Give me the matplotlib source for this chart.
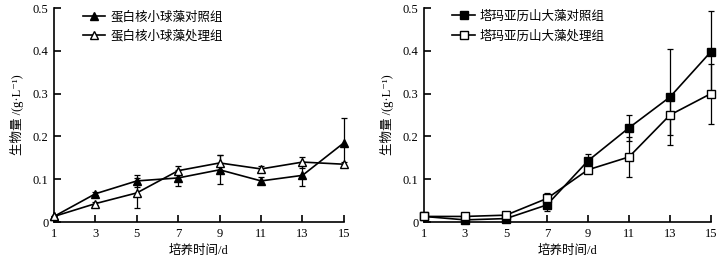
import matplotlib
matplotlib.use('Agg')
import matplotlib.pyplot as plt
import numpy as np

plt.rcParams['font.family'] = ['Liberation Serif', 'DejaVu Serif', 'Noto Sans CJK SC']
plt.rcParams['font.size'] = 9

days = [1, 3, 5, 7, 9, 11, 13, 15]

# 蛋白核小球藻
chl_ctrl = [0.013, 0.066, 0.096, 0.103, 0.122, 0.096, 0.109, 0.185]
chl_ctrl_err = [0.002, 0.004, 0.015, 0.019, 0.034, 0.008, 0.025, 0.057]
chl_trt = [0.013, 0.043, 0.068, 0.120, 0.138, 0.124, 0.140, 0.135]
chl_trt_err = [0.002, 0.004, 0.035, 0.010, 0.018, 0.008, 0.013, 0.005]

# 塔玛亚历山大藻
ale_ctrl = [0.013, 0.005, 0.008, 0.040, 0.143, 0.220, 0.292, 0.398]
ale_ctrl_err = [0.002, 0.003, 0.004, 0.015, 0.016, 0.030, 0.112, 0.096]
ale_trt = [0.013, 0.013, 0.016, 0.055, 0.122, 0.152, 0.250, 0.300]
ale_trt_err = [0.002, 0.003, 0.007, 0.012, 0.008, 0.046, 0.047, 0.070]

labels_left = ['蛋白核小球藻对照组', '蛋白核小球藻处理组']
labels_right = ['塔玛亚历山大藻对照组', '塔玛亚历山大藻处理组']

fig = plt.figure(figsize=(7.24, 2.67), dpi=100)
ax1 = fig.add_axes([0.0746, 0.1685, 0.4004, 0.8015])
ax2 = fig.add_axes([0.5856, 0.1685, 0.3964, 0.8015])


def draw(ax, ctrl, ctrl_err, trt, trt_err, marker, labels):
    ax.errorbar(days, ctrl, yerr=ctrl_err, color='black', marker=marker,
                markersize=5.5, markerfacecolor='black', linewidth=1.2,
                elinewidth=0.9, capsize=2.5, capthick=0.9, label=labels[0],
                clip_on=False, zorder=3)
    ax.errorbar(days, trt, yerr=trt_err, color='black', marker=marker,
                markersize=5.5, markerfacecolor='white', linewidth=1.2,
                elinewidth=0.9, capsize=2.5, capthick=0.9, label=labels[1],
                clip_on=False, zorder=3)
    ax.set_xlim(1, 15)
    ax.set_ylim(0, 0.5)
    ax.set_xticks(days)
    ax.set_yticks([0, 0.1, 0.2, 0.3, 0.4, 0.5])
    ax.set_yticklabels(['0', '0.1', '0.2', '0.3', '0.4', '0.5'])
    ax.spines['top'].set_visible(False)
    ax.spines['right'].set_visible(False)
    ax.spines['left'].set_linewidth(1.2)
    ax.spines['bottom'].set_linewidth(1.2)
    ax.tick_params(direction='in', length=5, width=1.2, pad=4)
    ax.set_xlabel('培养时间/d', labelpad=4)
    ax.set_ylabel('生物量 /(g·L⁻¹)', labelpad=6)
    h, l = ax.get_legend_handles_labels()
    h = [x[0] for x in h]
    ax.legend(h, l, loc='upper left', bbox_to_anchor=(0.06, 1.04), frameon=False,
              handlelength=1.8, handletextpad=0.4, labelspacing=0.55, fontsize=9)


draw(ax1, chl_ctrl, chl_ctrl_err, chl_trt, chl_trt_err, '^', labels_left)
draw(ax2, ale_ctrl, ale_ctrl_err, ale_trt, ale_trt_err, 's', labels_right)

fig.savefig('out.png', dpi=100)
